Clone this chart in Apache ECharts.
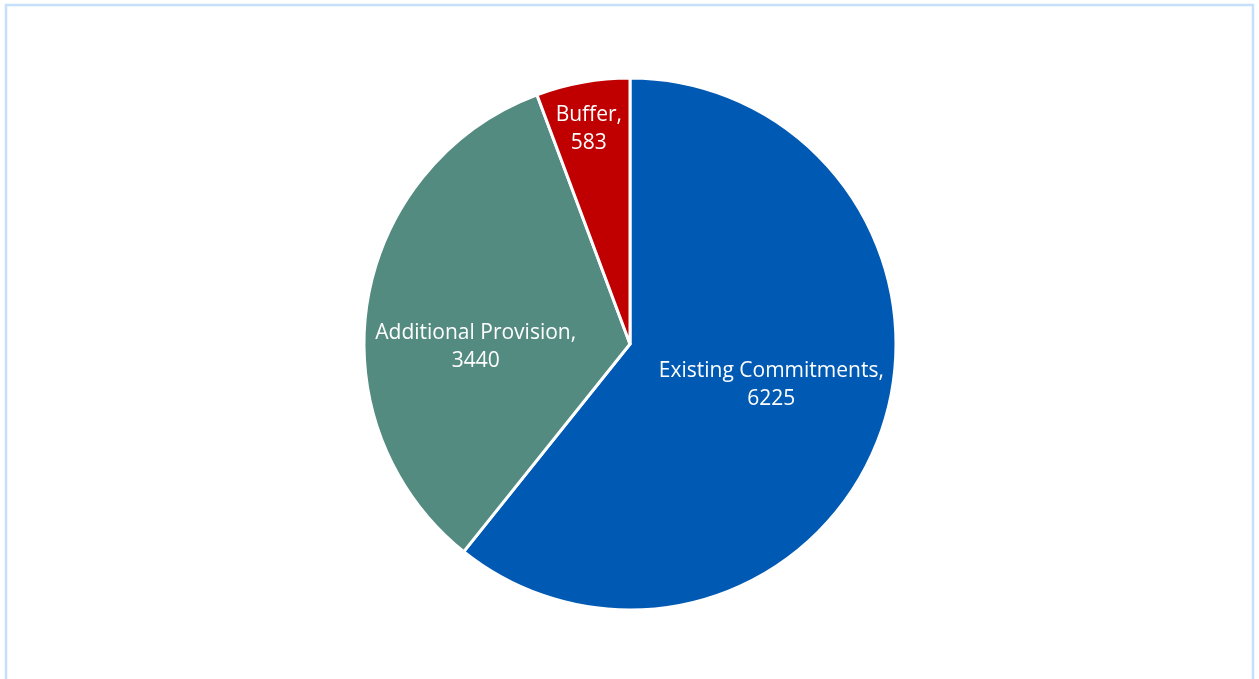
<!DOCTYPE html>
<html>
<head>
<meta charset="utf-8">
<script src="https://cdn.jsdelivr.net/npm/echarts@6/dist/echarts.min.js"></script>
<style>
  html, body { margin: 0; padding: 0; background: #fff; }
  #chart { width: 1259px; height: 679px; }
</style>
</head>
<body>
<div id="chart"></div>
<script>
// data
var categories = ['Existing Commitments', 'Additional Provision', 'Buffer'];
var values = [6225, 3440, 583];
var colors = ['#0059b3', '#548b81', '#c00000'];

var myChart = echarts.init(document.getElementById('chart'));

// Excel puts the labels at slightly different radii, nudge them
var labelOffset = {
	'Existing Commitments': [13, -4],
	'Additional Provision': [-20, 25],
	'Buffer': [-17, -81]
};

var pieData = [];
for (var i = 0; i < categories.length; i++) {
	pieData.push({
		name: categories[i],
		value: values[i],
		itemStyle: { color: colors[i] },
		label: { offset: labelOffset[categories[i]] }
	});
}

var option = {
	animation: false,
	graphic: [
		{
			type: 'rect',
			shape: { x: 6, y: 5, width: 1247, height: 720 },
			style: { fill: 'none', stroke: '#c6dffa', lineWidth: 2.5 },
			silent: true
		}
	],
	series: [
		{
			type: 'pie',
			center: [630, 344],
			radius: 266,
			startAngle: 90,
			clockwise: true,
			data: pieData,
			itemStyle: {
				borderColor: '#ffffff',
				borderWidth: 3
			},
			label: {
				show: true,
				position: 'inside',
				color: '#ffffff',
				fontFamily: 'Open Sans',
				fontSize: 21,
				lineHeight: 28,
				align: 'center',
				formatter: function (p) {
					return p.name + ',\n' + p.value;
				}
			},
			labelLine: { show: false },
			emphasis: { disabled: true }
		}
	]
};
myChart.setOption(option);
</script>
</body>
</html>
